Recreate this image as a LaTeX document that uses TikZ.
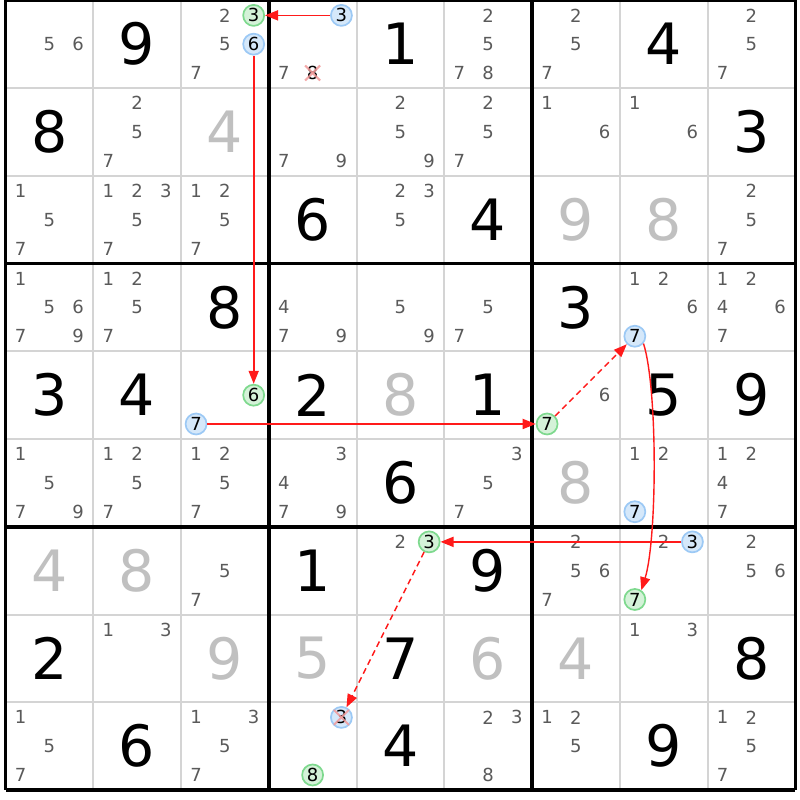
\documentclass[tikz,border=0pt]{standalone}
\usepackage{fontspec}
\setmainfont{DejaVu Sans}
\usetikzlibrary{arrows.meta}
\definecolor{candgray}{HTML}{5A5A5A}
\definecolor{lightgiven}{HTML}{C0C0C0}
\definecolor{thingrid}{HTML}{D4D4D4}
\definecolor{gfill}{HTML}{D4F2D8}
\definecolor{gdraw}{HTML}{7ED98E}
\definecolor{bfill}{HTML}{D5E8FA}
\definecolor{bdraw}{HTML}{9CC9F5}
\definecolor{xpink}{HTML}{F29A9A}
\definecolor{arrred}{HTML}{FF1A1A}
\newcommand\candnode[4][cand]{\node[#1] (c#2#3#4) at ({5.5+(#3-0.5)*87.75+(mod(#4-1,3)-1)*28.8},{0.3+(#2-0.5)*87.75+(int((#4-1)/3)-1)*28.8}) {#4};}
\newcommand\bignode[4][given]{\node[#1] (g#2#3) at ({5.5+(#3-0.5)*87.75},{0.3+(#2-0.5)*87.75}) {#4};}
\begin{document}
\begin{tikzpicture}[x=1pt,y=-1pt,
  given/.style={font=\fontsize{57}{57}\selectfont, text=black, inner sep=0pt},
  solved/.style={given, text=lightgiven},
  cand/.style={font=\fontsize{18}{18}\selectfont, text=candgray, inner sep=0pt},
  elim/.style={cand, text=black},
  gcirc/.style={circle, draw=gdraw, fill=gfill, line width=1.7pt, minimum size=21pt, inner sep=0pt, font=\fontsize{18}{18}\selectfont, text=black},
  bcirc/.style={gcirc, draw=bdraw, fill=bfill},
  thinline/.style={draw=thingrid, line width=2pt},
  thickline/.style={draw=black, line width=3.5pt},
  xmark/.style={draw=xpink, line width=2pt, opacity=0.85},
  link/.style={draw=arrred, line width=1.7pt, -{Triangle[length=13pt,width=10pt]}},
  weak/.style={link, line width=1.4pt, dash pattern=on 6pt off 4pt},
]
\useasboundingbox (0,0) rectangle (800,800);
\fill[white] (0,0) rectangle (800,800);
% grid
\foreach \i in {1,2,4,5,7,8} {
  \draw[thinline] ({5.5+\i*87.75},0.3) -- ({5.5+\i*87.75},790.05);
  \draw[thinline] (5.5,{0.3+\i*87.75}) -- (795.25,{0.3+\i*87.75});
}
\foreach \i in {0,3,6,9} {
  \draw[thickline] ({5.5+\i*87.75},0.3) -- ({5.5+\i*87.75},790.05);
  \draw[thickline] (5.5,{0.3+\i*87.75}) -- (795.25,{0.3+\i*87.75});
}
% given digits
\foreach \r/\c/\d in {1/2/9, 1/5/1, 1/8/4, 2/1/8, 2/9/3, 3/4/6, 3/6/4, 4/3/8, 4/7/3,
  5/1/3, 5/2/4, 5/4/2, 5/6/1, 5/8/5, 5/9/9, 6/5/6, 7/4/1, 7/6/9, 8/1/2, 8/5/7, 8/9/8,
  9/2/6, 9/5/4, 9/8/9}
  {\bignode{\r}{\c}{\d}}
\foreach \r/\c/\d in {2/3/4, 3/7/9, 3/8/8, 5/5/8, 6/7/8, 7/1/4, 7/2/8, 8/3/9, 8/4/5, 8/6/6, 8/7/4}
  {\bignode[solved]{\r}{\c}{\d}}
% candidates
\foreach \r/\c/\L in {1/1/{5,6}, 1/3/{2,5,7}, 1/4/{7}, 1/6/{2,5,7,8}, 1/7/{2,5,7}, 1/9/{2,5,7},
  2/2/{2,5,7}, 2/4/{7,9}, 2/5/{2,5,9}, 2/6/{2,5,7}, 2/7/{1,6}, 2/8/{1,6},
  3/1/{1,5,7}, 3/2/{1,2,3,5,7}, 3/3/{1,2,5,7}, 3/5/{2,3,5}, 3/9/{2,5,7},
  4/1/{1,5,6,7,9}, 4/2/{1,2,5,7}, 4/4/{4,7,9}, 4/5/{5,9}, 4/6/{5,7}, 4/8/{1,2,6}, 4/9/{1,2,4,6,7},
  5/7/{6},
  6/1/{1,5,7,9}, 6/2/{1,2,5,7}, 6/3/{1,2,5,7}, 6/4/{3,4,7,9}, 6/6/{3,5,7}, 6/8/{1,2}, 6/9/{1,2,4,7},
  7/3/{5,7}, 7/5/{2}, 7/7/{2,5,6,7}, 7/8/{2}, 7/9/{2,5,6},
  8/2/{1,3}, 8/8/{1,3},
  9/1/{1,5,7}, 9/3/{1,3,5,7}, 9/6/{2,3,8}, 9/7/{1,2,5}, 9/9/{1,2,5,7}}
  {\foreach \d in \L {\candnode{\r}{\c}{\d}}}
% eliminated candidate
\candnode[elim]{1}{4}{8}
\draw[xmark] ([shift={(-7.5pt,-7.5pt)}]c148.center) -- ([shift={(7.5pt,7.5pt)}]c148.center);
\draw[xmark] ([shift={(-7.5pt,7.5pt)}]c148.center) -- ([shift={(7.5pt,-7.5pt)}]c148.center);
% highlighted candidates
\candnode[gcirc]{1}{3}{3}
\candnode[bcirc]{1}{3}{6}
\candnode[bcirc]{1}{4}{3}
\candnode[gcirc]{5}{3}{6}
\candnode[bcirc]{5}{3}{7}
\candnode[gcirc]{5}{7}{7}
\candnode[bcirc]{4}{8}{7}
\candnode[bcirc]{6}{8}{7}
\candnode[gcirc]{7}{8}{7}
\candnode[bcirc]{7}{8}{3}
\candnode[gcirc]{7}{5}{3}
\candnode[bcirc]{9}{4}{3}
\candnode[gcirc]{9}{4}{8}
\draw[xmark] ([shift={(-7.5pt,-7.5pt)}]c943.center) -- ([shift={(7.5pt,7.5pt)}]c943.center);
\draw[xmark] ([shift={(-7.5pt,7.5pt)}]c943.center) -- ([shift={(7.5pt,-7.5pt)}]c943.center);
% links
\draw[link] (c143) -- (c133);
\draw[link] (c136) -- (c536);
\draw[link] (c537) -- (c577);
\draw[weak] (c577) -- (c487);
\draw[link, line width=1.4pt] (c487.-40) .. controls (658,390) and (657,540) .. (c787.55);
\draw[link] (c783) -- (c753);
\draw[weak] (c753) -- (c943);
\end{tikzpicture}
\end{document}
